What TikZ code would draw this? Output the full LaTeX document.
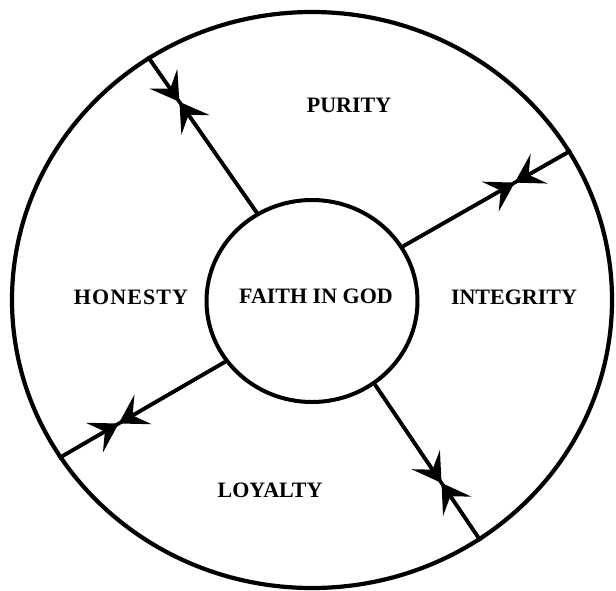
\documentclass[tikz,border=0pt]{standalone}
\usepackage{fontspec}
\setmainfont{Liberation Serif}
\usetikzlibrary{arrows.meta,calc,shapes.geometric}

\tikzset{
  virtud/.style={font=\fontsize{11}{13}\selectfont\bfseries},
  punta/.style={line width=1.8pt,
    -{Stealth[length=14pt,width=17pt,inset=6pt]}},
  radio/.style={line width=1.8pt}
}

\begin{document}
\begin{tikzpicture}[x=0.5pt,y=-0.5pt]

  \useasboundingbox (0,0) rectangle (616,590);

  % Circulos
  \node[ellipse, draw, line width=2.1pt, inner sep=0pt,
        minimum width=300pt, minimum height=288pt]
    (anillo) at (312,300) {};

  \node[ellipse, draw, line width=2pt, inner sep=0pt,
        minimum width=105.5pt, minimum height=101pt]
    (fe) at (312,301) {};
  \node[virtud] (fetexto) at (316,296) {FAITH IN GOD};

  % Radios
  \draw[radio] (fe.122) -- (anillo.124);
  \draw[radio] (fe.31) -- (anillo.30.3);
  \draw[radio] (fe.215) -- (anillo.212.6);
  \draw[radio] (fe.-53.2) -- (anillo.-55.6);

  % Puntos de encuentro de las flechas
  \coordinate (m1) at ($(fe.122)!0.71!(anillo.124)$);
  \coordinate (m2) at ($(fe.31)!0.665!(anillo.30.3)$);
  \coordinate (m3) at ($(fe.215)!0.64!(anillo.212.6)$);
  \coordinate (m4) at ($(fe.-53.2)!0.63!(anillo.-55.6)$);

  % Flechas enfrentadas
  \draw[punta] (fe.122) -- (m1);
  \draw[punta] (anillo.124) -- (m1);
  \draw[punta] (fe.31) -- (m2);
  \draw[punta] (anillo.30.3) -- (m2);
  \draw[punta] (fe.215) -- (m3);
  \draw[punta] (anillo.212.6) -- (m3);
  \draw[punta] (fe.-53.2) -- (m4);
  \draw[punta] (anillo.-55.6) -- (m4);

  % Etiquetas
  \node[virtud] (pureza) at (349,105) {PURITY};
  \node[virtud] (honestidad) at (131,297)
    {\addfontfeature{LetterSpace=5}HONESTY};
  \node[virtud] (integridad) at (514,297) {INTEGRITY};
  \node[virtud] (lealtad) at (270,490) {LOYALTY};

\end{tikzpicture}
\end{document}
